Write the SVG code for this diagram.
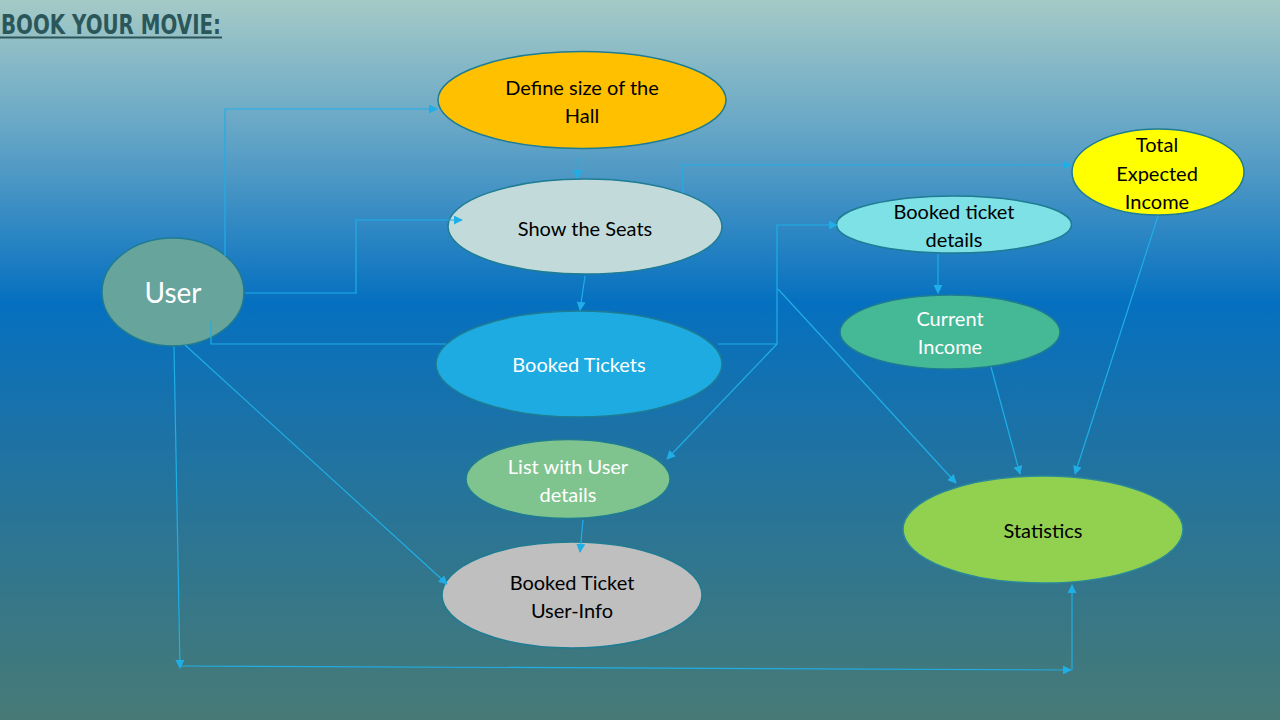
<svg xmlns="http://www.w3.org/2000/svg" width="1280" height="720" viewBox="0 0 1280 720">
<defs>
<linearGradient id="bg" x1="0" y1="0" x2="0" y2="1">
<stop offset="0" stop-color="#A5CAC6"/>
<stop offset="0.2" stop-color="#5FA2C6"/>
<stop offset="0.42" stop-color="#0570C0"/>
<stop offset="0.6" stop-color="#1C72A6"/>
<stop offset="0.8" stop-color="#32768C"/>
<stop offset="1" stop-color="#477A76"/>
</linearGradient>
<marker id="arr" viewBox="0 0 10 10" refX="9" refY="5" markerWidth="9" markerHeight="9" markerUnits="userSpaceOnUse" orient="auto">
<path d="M0,0 L10,5 L0,10 Z" fill="#1FAEE6"/>
</marker>
<style>
.node ellipse{stroke:#1E7C93;stroke-width:1.5}
.t{font-family:Lato,"Noto Sans","DejaVu Sans",sans-serif;font-size:20px;text-anchor:middle}
.dk{fill:#000}
.wh{fill:#fff}
.c{fill:none;stroke:#1FAEE6;stroke-width:1.2}
</style>
</defs>
<rect x="0" y="0" width="1280" height="720" fill="url(#bg)"/>
<text x="1" y="34" font-family="'DejaVu Sans Condensed','DejaVu Sans',sans-serif" font-weight="bold" font-size="27" fill="#2C575A" textLength="220" lengthAdjust="spacingAndGlyphs">BOOK YOUR MOVIE:</text>
<line x1="0" y1="37.5" x2="222" y2="37.5" stroke="#2C575A" stroke-width="2"/>

<g id="user" class="node">
<ellipse cx="173" cy="292" rx="71" ry="54" fill="#66A49C"/>
<text class="t wh" x="173" y="303" style="font-size:28px">User</text>
</g>
<g id="define-hall" class="node">
<ellipse cx="582" cy="100" rx="144" ry="48.5" fill="#FFC000"/>
<text class="t dk" x="582" y="95">Define size of the</text>
<text class="t dk" x="582" y="123">Hall</text>
</g>
<g id="show-seats" class="node">
<ellipse cx="585" cy="226.5" rx="137" ry="47.5" fill="#C2DBDA"/>
<text class="t dk" x="585" y="236">Show the Seats</text>
</g>
<g id="booked-tickets" class="node">
<ellipse cx="579" cy="364" rx="143" ry="53" fill="#1DABE2"/>
<text class="t wh" x="579" y="372">Booked Tickets</text>
</g>
<g id="booked-ticket-details" class="node">
<ellipse cx="954" cy="224.5" rx="117.5" ry="28.5" fill="#7EE1E6"/>
<text class="t dk" x="954" y="219">Booked ticket</text>
<text class="t dk" x="954" y="247">details</text>
</g>
<g id="current-income" class="node">
<ellipse cx="950" cy="332" rx="110" ry="37" fill="#45B896"/>
<text class="t wh" x="950" y="326">Current</text>
<text class="t wh" x="950" y="354">Income</text>
</g>
<g id="total-expected-income" class="node">
<ellipse cx="1158" cy="172" rx="86" ry="43" fill="#FFFF00"/>
<text class="t dk" x="1157" y="152">Total</text>
<text class="t dk" x="1157" y="181">Expected</text>
<text class="t dk" x="1157" y="209">Income</text>
</g>
<g id="statistics" class="node">
<ellipse cx="1043" cy="529.5" rx="140" ry="53.5" fill="#92D050" style="stroke:#2A8A9A"/>
<text class="t dk" x="1043" y="538">Statistics</text>
</g>
<g id="list-user-details" class="node">
<ellipse cx="568" cy="479" rx="102" ry="39.5" fill="#7FC48F"/>
<text class="t wh" x="568" y="474">List with User</text>
<text class="t wh" x="568" y="502">details</text>
</g>
<g id="booked-ticket-userinfo" class="node">
<ellipse cx="572" cy="595" rx="130" ry="53" fill="#BFBFBF"/>
<text class="t dk" x="572" y="590">Booked Ticket</text>
<text class="t dk" x="572" y="618">User-Info</text>
</g>

<g id="connectors">
<path class="c" d="M225,256 L225,109 L437,109" marker-end="url(#arr)"/>
<path class="c" d="M245,293 L356,293 L356,220 L462,220" marker-end="url(#arr)"/>
<path class="c" d="M211,321 L211,344 L446,344"/>
<path class="c" d="M578,158 L577,178" marker-end="url(#arr)"/>
<path class="c" d="M585,276 L580,310" marker-end="url(#arr)"/>
<path class="c" d="M683,193 L683,165 L1071,165" marker-end="url(#arr)"/>
<path class="c" d="M718,344 L777,344 L777,225 L837,225" marker-end="url(#arr)"/>
<path class="c" d="M777,344 L667,459" marker-end="url(#arr)"/>
<path class="c" d="M778,289 L956,483" marker-end="url(#arr)"/>
<path class="c" d="M938,254 L938,293" marker-end="url(#arr)"/>
<path class="c" d="M991,367 L1020,474" marker-end="url(#arr)"/>
<path class="c" d="M1158,216 L1075,474" marker-end="url(#arr)"/>
<path class="c" d="M185,345 L447,584" marker-end="url(#arr)"/>
<path class="c" d="M583,520 L580,552" marker-end="url(#arr)"/>
<path class="c" d="M174,347 L180,668" marker-end="url(#arr)"/>
<path class="c" d="M180,666 L1071,670" marker-end="url(#arr)"/>
<path class="c" d="M1072,670 L1072,585" marker-end="url(#arr)"/>
</g>
</svg>
